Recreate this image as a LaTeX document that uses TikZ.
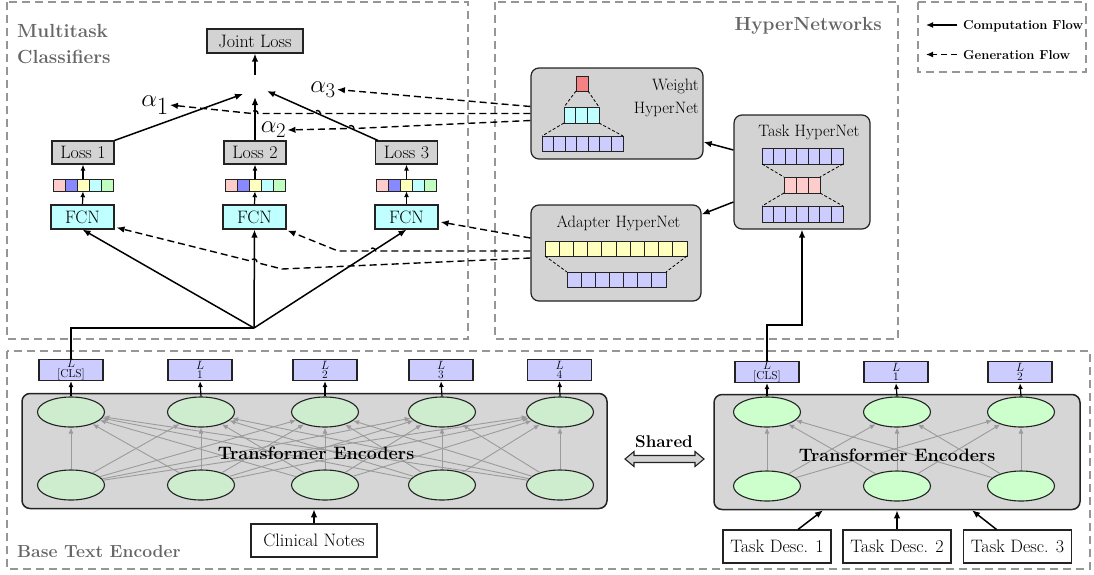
\documentclass[tikz,border=0pt]{standalone}
\usetikzlibrary{arrows.meta,shapes.geometric}
\definecolor{boxgray}{RGB}{211,211,211}
\definecolor{encfill}{RGB}{214,214,214}
\definecolor{greenL}{RGB}{206,236,206}
\definecolor{greenR}{RGB}{204,255,204}
\definecolor{titlegray}{RGB}{102,102,102}
\definecolor{framegray}{RGB}{150,150,150}
\definecolor{linkgray}{RGB}{155,155,155}
\definecolor{bordercol}{RGB}{35,35,35}
\definecolor{cellpink}{RGB}{255,204,204}
\definecolor{cellblue}{RGB}{136,136,255}
\definecolor{cellyellow}{RGB}{255,255,190}
\definecolor{cellcyan}{RGB}{192,255,255}
\definecolor{cellgreen}{RGB}{192,255,192}
\definecolor{cellred}{RGB}{245,130,130}
\definecolor{lblue}{RGB}{204,204,255}
\newcommand{\cellrow}[6]{%
  \foreach \k in {1,...,#5}{\draw[cellst,fill=#6] ({#1+(\k-1)*#3},#2) rectangle ++(#3,#4);}}
\tikzset{
  frame/.style={draw=framegray, line width=1.2pt, dash pattern=on 8pt off 5pt},
  title/.style={font=\fontsize{19}{26}\selectfont\bfseries, text=titlegray, inner sep=0pt},
  lbl/.style={font=\fontsize{18}{21}\selectfont},
  hlbl/.style={font=\fontsize{16.5}{23}\selectfont, inner sep=0pt},
  graybox/.style={draw=bordercol, fill=boxgray, line width=1.1pt, inner sep=0pt, lbl},
  fcnbox/.style={draw=bordercol, fill=cellcyan, line width=1.1pt, inner sep=0pt, lbl, minimum width=63pt, minimum height=24pt},
  wbox/.style={draw=bordercol, fill=white, line width=1.1pt, inner sep=0pt, lbl, minimum height=33pt},
  barnode/.style={inner sep=0pt, minimum width=60pt, minimum height=12pt},
  cellst/.style={draw=bordercol, line width=0.9pt},
  hbox/.style={draw=bordercol, fill=boxgray, line width=1.2pt, rounded corners=8pt, inner sep=0pt},
  encbox/.style={draw=bordercol, fill=encfill, line width=1.5pt, rounded corners=8pt, inner sep=0pt},
  ellL/.style={ellipse, draw=bordercol, fill=greenL, line width=1.1pt, minimum width=67pt, minimum height=30pt, inner sep=0pt},
  ellR/.style={ellipse, draw=bordercol, fill=greenR, line width=1.1pt, minimum width=67pt, minimum height=30pt, inner sep=0pt},
  lbox/.style={draw=bordercol, fill=lblue, line width=1.1pt, minimum width=64pt, minimum height=21pt, inner sep=0pt, align=center, font=\fontsize{11.5}{9.5}\selectfont},
  enctxt/.style={font=\fontsize{18}{21}\selectfont\bfseries, inner sep=0pt},
  solidarrow/.style={draw=black, line width=1.5pt, -{Latex[length=8pt,width=6.5pt]}},
  solidline/.style={draw=black, line width=1.5pt},
  smallarrow/.style={draw=black, line width=1.2pt, -{Latex[length=6pt,width=5pt]}},
  linkarrow/.style={draw=linkgray, line width=0.9pt, -{Latex[length=6pt,width=5pt]}},
  genarrow/.style={draw=black, line width=1.4pt, dash pattern=on 7pt off 4pt, -{Latex[length=8pt,width=6.5pt]}},
  trap/.style={draw=black, line width=0.8pt, dash pattern=on 3pt off 2pt},
  legendtxt/.style={font=\fontsize{13}{15}\selectfont\bfseries, inner sep=0pt},
  legarrow/.style={draw=black, line width=1.4pt, -{Latex[length=7pt,width=6pt]}},
  leggen/.style={draw=black, line width=1.4pt, dash pattern=on 6pt off 4pt, -{Latex[length=7pt,width=6pt]}},
  sharedarrow/.style={draw=bordercol, fill=boxgray, line width=1.1pt},
}
\begin{document}
\begin{tikzpicture}[x=1pt,y=-1pt]
\useasboundingbox (0,0) rectangle (1094,574);
% ---------- frames ----------
\draw[frame] (7,2) rectangle (468,339);
\draw[frame] (495,2) rectangle (898,339);
\draw[frame] (918,2) rectangle (1086,72);
\draw[frame] (7,351) rectangle (1090,569);
\node[title, anchor=north west, align=left] (tmc) at (17,23.8) {Multitask\\Classifiers};
\node[title, anchor=base east] (thn) at (882,30.7) {HyperNetworks};
\node[title, font=\fontsize{17.5}{20}\selectfont\bfseries, anchor=base west] (tbe) at (17,557) {Base Text Encoder};
% ---------- legend ----------
\coordinate (lg1a) at (957,25); \coordinate (lg1b) at (926,25);
\coordinate (lg2a) at (957,54.5); \coordinate (lg2b) at (926,54.5);
\draw[legarrow] (lg1a) -- (lg1b);
\draw[leggen] (lg2a) -- (lg2b);
\node[legendtxt, anchor=base west] (lgt1) at (963,29.5) {Computation Flow};
\node[legendtxt, anchor=base west] (lgt2) at (963,59) {Generation Flow};
% ---------- multitask classifiers ----------
\node[graybox, minimum width=96pt, minimum height=24pt] (JL) at (255,41) {Joint Loss};
\node[graybox, minimum width=62pt, minimum height=23pt] (L1) at (83,152.5) {Loss 1};
\node[graybox, minimum width=62pt, minimum height=23pt] (L2) at (255,152.5) {Loss 2};
\node[graybox, minimum width=62pt, minimum height=23pt] (L3) at (406.5,152.5) {Loss 3};
\node[fcnbox] (F1) at (82.5,217) {FCN};
\node[fcnbox] (F2) at (254.5,217) {FCN};
\node[fcnbox] (F3) at (406.5,217) {FCN};
\node[barnode] (B1) at (83,185) {};
\node[barnode] (B2) at (255,185) {};
\node[barnode] (B3) at (406.5,185) {};
\foreach \xo in {53,225,376.5}{
  \foreach \c [count=\k from 0] in {cellpink,cellblue,cellyellow,cellcyan,cellgreen}{
    \draw[cellst,fill=\c] ({\xo+\k*12},179) rectangle ++(12,12);}}
\foreach \i in {1,2,3}{
  \draw[smallarrow] (F\i.north) -- (B\i.south);
  \draw[smallarrow] (B\i.north) -- (L\i.south);}
\coordinate (jc) at (255,75);
\coordinate (t1) at (243,94);
\coordinate (t2) at (255,97);
\coordinate (t3) at (267,91);
\draw[solidarrow] (jc) -- (JL.south);
\draw[solidarrow] (L1.north east) -- (t1);
\draw[solidarrow] (L2.north) -- (t2);
\draw[solidarrow] ([xshift=3pt]L3.north west) -- (t3);
\node[font=\fontsize{34}{40}\selectfont, inner sep=1pt] (A1) at (155,105) {$\alpha_1$};
\node[font=\fontsize{27.5}{32}\selectfont, inner sep=1pt] (A2) at (273.5,130) {$\alpha_2$};
\node[font=\fontsize{27.5}{32}\selectfont, inner sep=1pt] (A3) at (323,89.5) {$\alpha_3$};
\coordinate (hub) at (254,328);
\draw[solidarrow] (hub) -- (F1.south);
\draw[solidarrow] (hub) -- (F2.south);
\draw[solidarrow] (hub) -- (F3.south);
% ---------- hypernetworks ----------
\node[hbox, minimum width=172pt, minimum height=91pt] (WH) at (617,113.5) {};
\node[hlbl, anchor=north east, align=right] (WHt) at (699,78.5) {Weight\\HyperNet};
\draw[cellst, fill=cellred] (576,76) rectangle (588,91);
\cellrow{564}{107}{11.67}{16}{3}{cellcyan}
\cellrow{542}{136}{11.57}{15}{7}{lblue}
\draw[trap] (576,91) -- (564,107) (588,91) -- (599,107);
\draw[trap] (564,123) -- (542,136) (599,123) -- (623,136);
\node[hbox, minimum width=136pt, minimum height=114pt] (TH) at (802,172) {};
\node[hlbl, anchor=base] (THt) at (809,136) {Task HyperNet};
\cellrow{762}{148}{11.57}{16}{7}{lblue}
\cellrow{784}{177}{12}{16}{3}{cellpink}
\cellrow{762}{206}{11.57}{16}{7}{lblue}
\draw[trap] (762,164) -- (784,177) (843,164) -- (820,177);
\draw[trap] (784,193) -- (762,206) (820,193) -- (843,206);
\node[hbox, minimum width=170pt, minimum height=96pt] (AH) at (616,253) {};
\node[hlbl, anchor=base] (AHt) at (618.5,227) {Adapter HyperNet};
\cellrow{545}{241}{14.2}{15}{10}{cellyellow}
\cellrow{567}{272}{14.14}{15}{7}{lblue}
\draw[trap] (545,256) -- (567,272) (687,256) -- (666,272);
\draw[solidarrow] ([yshift=22pt]TH.west) -- ([yshift=-28.5pt]WH.east);
\draw[solidarrow] ([yshift=-30pt]TH.west) -- ([yshift=-10pt]AH.north east);
% ---------- generation flow ----------
\draw[genarrow] ([yshift=7pt]WH.west) -- (A3.east);
\draw[genarrow] (WH.west) -- (320.4,113.5) arc[start angle=0,end angle=180,radius=3pt]
   -- (258,113.5) arc[start angle=0,end angle=180,radius=3pt] -- (A1.east);
\draw[genarrow] ([yshift=-7pt]WH.west) -- (354,128.5) arc[start angle=0,end angle=180,radius=3pt] -- (A2.east);
\draw[genarrow] ([yshift=15pt]AH.west) -- ([xshift=2pt,yshift=-5pt]F3.east);
\draw[genarrow] ([yshift=2pt]AH.west) -- (375.6,251) arc[start angle=0,end angle=180,radius=3pt]
   -- (338,251) -- ([xshift=1pt,yshift=-1pt]F2.south east);
\draw[genarrow] ([yshift=-5pt]AH.west) -- (282,269) -- (256.9,262.6)
   arc[start angle=-14,end angle=166,radius=3pt] -- ([xshift=2pt,yshift=2pt]F1.south east);
% ---------- left encoder ----------
\node[encbox, minimum width=585pt, minimum height=115pt] (LE) at (314.5,451) {};
\foreach \n/\x in {1/71,2/201,3/325,4/442,5/560}{
  \node[ellL] (lt\n) at (\x,412) {};
  \node[ellL] (lb\n) at (\x,485) {};}
\foreach \i in {1,...,5}{\foreach \j in {1,...,5}{\draw[linkarrow] (lb\i) -- (lt\j);}}
\node[enctxt] (LEt) at (316,453) {Transformer Encoders};
\node[lbox] (LL1) at (71,370) {$L$\\{[CLS]}};
\node[lbox] (LL2) at (200,370) {$L$\\1};
\node[lbox] (LL3) at (325,370) {$L$\\2};
\node[lbox] (LL4) at (441,370) {$L$\\3};
\node[lbox] (LL5) at (559.5,370) {$L$\\4};
\foreach \i in {1,...,5}{\draw[smallarrow] (lt\i.north) -- (LL\i.south);}
\draw[solidline] (LL1.north) |- (hub);
\node[wbox, minimum width=126pt] (CN) at (314,540.5) {Clinical Notes};
\draw[solidarrow] (CN.north) -- (CN.north |- LE.south);
% ---------- shared ----------
\draw[sharedarrow] (625,459) -- (634,451.5) -- (634,455.5) -- (695,455.5) -- (695,451.5) -- (704,459)
   -- (695,466.5) -- (695,462.5) -- (634,462.5) -- (634,466.5) -- cycle;
\node[font=\fontsize{17}{20}\selectfont\bfseries, inner sep=0pt] (SH) at (664,442) {Shared};
% ---------- right encoder ----------
\node[encbox, minimum width=366pt, minimum height=115pt] (RE) at (897,452) {};
\foreach \n/\x in {1/767,2/897,3/1021}{
  \node[ellR] (rt\n) at (\x,412) {};
  \node[ellR] (rb\n) at (\x,486) {};}
\foreach \i in {1,2,3}{\foreach \j in {1,2,3}{\draw[linkarrow] (rb\i) -- (rt\j);}}
\node[enctxt] (REt) at (897,455) {Transformer Encoders};
\node[lbox] (RL1) at (767,372) {$L$\\{[CLS]}};
\node[lbox] (RL2) at (896,372) {$L$\\1};
\node[lbox] (RL3) at (1020,372) {$L$\\2};
\foreach \i in {1,2,3}{\draw[smallarrow] (rt\i.north) -- (RL\i.south);}
\coordinate (rc) at (802,325);
\draw[solidarrow] (RL1.north) |- (rc) -- (TH.south);
\node[wbox, minimum width=108pt] (TD1) at (777,546.5) {Task Desc. 1};
\node[wbox, minimum width=108pt] (TD2) at (897,546.5) {Task Desc. 2};
\node[wbox, minimum width=108pt] (TD3) at (1017.5,546.5) {Task Desc. 3};
\draw[solidarrow] ([xshift=21pt]TD1.north) -- ([xshift=-74pt]RE.south);
\draw[solidarrow] (TD2.north) -- (TD2.north |- RE.south);
\draw[solidarrow] ([xshift=-21pt]TD3.north) -- ([xshift=75pt]RE.south);
\end{tikzpicture}
\end{document}
